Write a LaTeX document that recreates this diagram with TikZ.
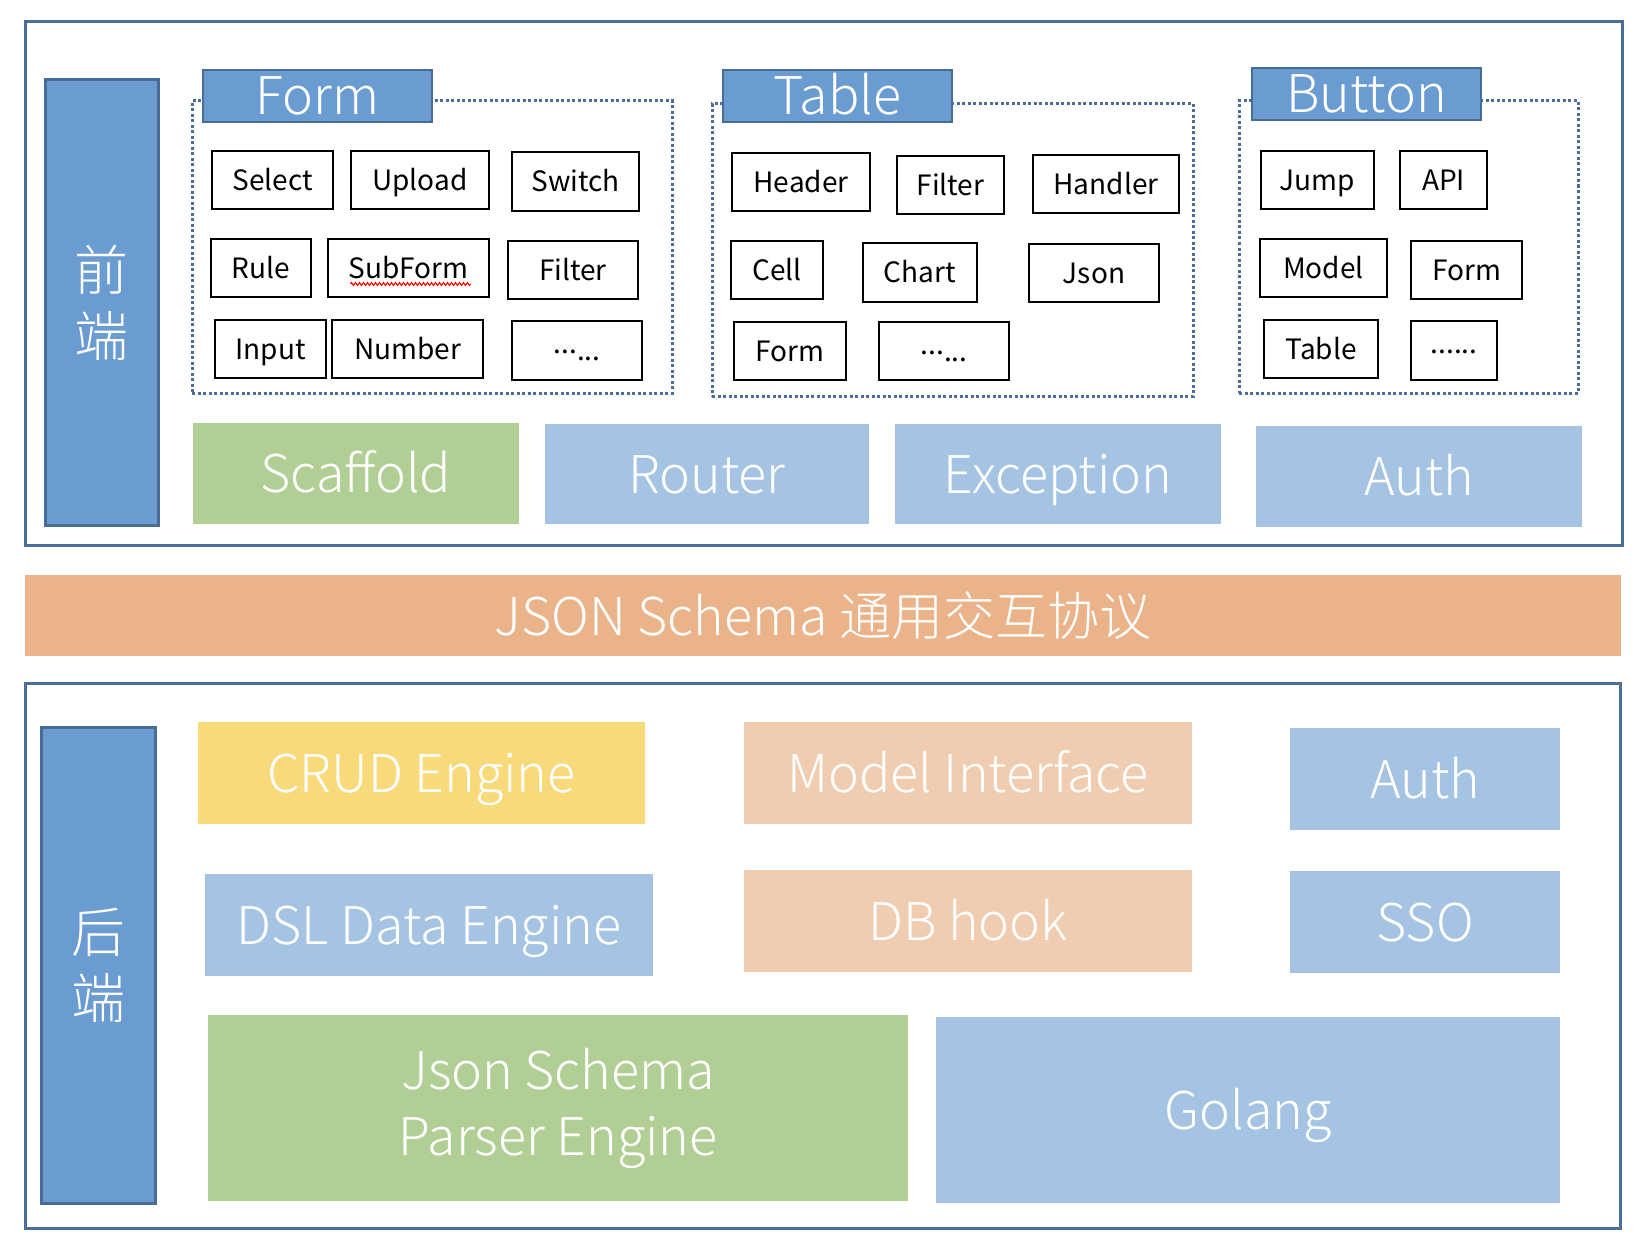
\documentclass[tikz,border=0pt]{standalone}
\usepackage{fontspec}
\setmainfont{Noto Sans CJK SC}
\newfontfamily\thinfont{Noto Sans CJK SC Light}
\usepackage{tikz}
\usepackage{xcolor}
\usetikzlibrary{calc,decorations.pathmorphing}

\definecolor{framec}{RGB}{74,110,152}
\definecolor{barfill}{RGB}{106,155,209}
\definecolor{barline}{RGB}{71,108,150}
\definecolor{greenc}{RGB}{177,207,148}
\definecolor{bluec}{RGB}{165,195,226}
\definecolor{orangec}{RGB}{234,179,138}
\definecolor{yellowc}{RGB}{249,218,122}
\definecolor{peachc}{RGB}{240,204,176}

\newcommand{\bigtxt}{\thinfont\fontsize{52pt}{66pt}\selectfont}
\newcommand{\smalltxt}{\fontsize{28pt}{35pt}\selectfont}
\newcommand{\middots}[1]{\raisebox{7pt}{#1}}

\begin{document}
\begin{tikzpicture}[x=1pt,y=-1pt,
    every node/.style={inner sep=0pt, outer sep=0pt},
    sz/.style 2 args={minimum width=#1, minimum height=#2},
    frm/.style={draw=framec, line width=3pt, fill=white},
    bar/.style={draw=barline, line width=3pt, fill=barfill, text=white,
        font=\thinfont\fontsize{54pt}{66pt}\selectfont, align=center},
    ttl/.style={draw=barline, line width=2.5pt, fill=barfill, text=white,
        font=\bigtxt, text height=38pt, text depth=0pt},
    grp/.style={draw=framec, line width=3pt, dash pattern=on 3pt off 2.5pt},
    itm/.style={draw=black, line width=2pt, fill=white, font=\smalltxt,
        text height=20.5pt, text depth=0pt},
    blk/.style={fill=#1, text=white, font=\bigtxt,
        text height=38pt, text depth=0pt},
]
\useasboundingbox (0,0) rectangle (1648,1252);

% front end
\node[frm, sz={1597}{523}] (front) at (823.5,283.5) {};
\node[bar, sz={113}{445}] (febar) at (101.5,302.5) {前\\端};

\node[grp, sz={480}{292}] (formgrp) at (432,247) {};
\node[grp, sz={481}{292}] (tablegrp) at (952.5,250) {};
\node[grp, sz={339}{292}] (btngrp) at (1408.5,247) {};
\node[ttl, sz={229}{52}] (formttl) at (317.5,96) {Form};
\node[ttl, sz={229}{52}] (tablettl) at (837.5,96) {Table};
\node[ttl, sz={229}{52}] (btnttl) at (1366.5,94) {Button};

% form items
\node[itm, sz={121}{58}] (fsel) at (272.5,180) {Select};
\node[itm, sz={138}{58}] (fup) at (420,180) {Upload};
\node[itm, sz={127}{59}] (fsw) at (575.5,181.5) {Switch};
\node[itm, sz={100}{58}] (frule) at (261,268) {Rule};
\node[itm, sz={161}{58}] (fsub) at (408.5,268) {SubForm};
\node[itm, sz={130}{58}] (ffil) at (573,270) {Filter\hspace{24pt}};
\node[itm, sz={111}{58}] (finp) at (270.5,349) {Input};
\node[itm, sz={151}{58}] (fnum) at (407.5,349) {Number};
\node[itm, sz={130}{59}] (fmore) at (577,350.5) {\middots{...}...\hspace{46pt}};
\draw[red, line width=1pt, decorate, decoration={zigzag, segment length=4pt, amplitude=1.5pt}]
    ($(fsub.south)+(-58,-13)$) -- ($(fsub.south)+(62,-13)$);

% table items
\node[itm, sz={138}{58}] (thead) at (801,182) {Header};
\node[itm, sz={107}{58}] (tfil) at (950.5,185) {Filter};
\node[itm, sz={146}{58}] (thand) at (1106,184) {Handler};
\node[itm, sz={92}{58}] (tcell) at (777,270) {Cell};
\node[itm, sz={114}{59}] (tchart) at (920,272.5) {Chart};
\node[itm, sz={130}{58}] (tjson) at (1094,273) {Json\hspace{34pt}};
\node[itm, sz={112}{58}] (tform) at (790,351) {Form};
\node[itm, sz={130}{58}] (tmore) at (944,351) {\middots{...}...\hspace{46pt}};

% button items
\node[itm, sz={113}{58}] (bjump) at (1317.5,180) {Jump};
\node[itm, sz={87}{58}] (bapi) at (1443.5,180) {API};
\node[itm, sz={127}{58}] (bmodel) at (1323.5,268) {Model};
\node[itm, sz={111}{58}] (bform) at (1466.5,270) {Form};
\node[itm, sz={114}{58}] (btable) at (1321,349) {Table};
\node[itm, sz={86}{59}] (bmore) at (1454,350.5) {\middots{......}};

\node[blk=greenc, sz={326}{101}] (scaffold) at (356,473.5) {Scaffold};
\node[blk=bluec, sz={324}{100}] (router) at (707,474) {Router};
\node[blk=bluec, sz={326}{100}] (except) at (1058,474) {Exception};
\node[blk=bluec, sz={326}{101}] (feauth) at (1419,476.5) {Auth};

% protocol
\node[blk=orangec, sz={1596}{81}, text height={}, text depth={}] (proto) at (823,615.5)
    {JSON Schema 通用交互协议};

% back end
\node[frm, sz={1595}{545}] (back) at (822.5,955.5) {};
\node[bar, sz={114}{476}] (bebar) at (98,965) {后\\端};
\node[blk=yellowc, sz={447}{102}] (crud) at (421.5,773) {CRUD Engine};
\node[blk=peachc, sz={448}{102}] (model) at (968,773) {Model Interface};
\node[blk=bluec, sz={270}{102}] (beauth) at (1425,779) {Auth};
\node[blk=bluec, sz={448}{102}] (dsl) at (429,925) {DSL Data Engine};
\node[blk=peachc, sz={448}{102}] (dbhook) at (968,921) {DB hook};
\node[blk=bluec, sz={270}{102}] (sso) at (1425,922) {SSO};
\node[blk=greenc, sz={700}{186}, align=center, text height={}, text depth={}] (parser)
    at (558,1108) {Json Schema\\Parser Engine};
\node[blk=bluec, sz={624}{186}] (golang) at (1248,1110) {Golang};
\end{tikzpicture}
\end{document}
